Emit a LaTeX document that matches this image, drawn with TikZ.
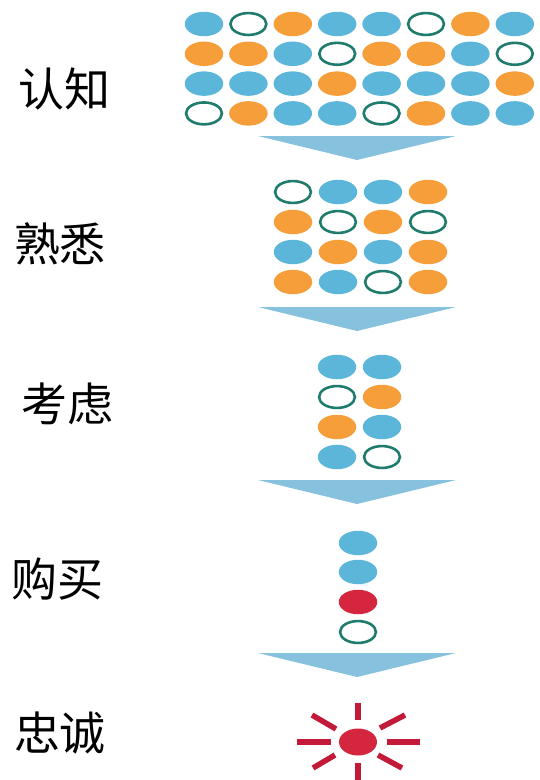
\documentclass[tikz,border=0pt]{standalone}
\usepackage{fontspec}
\newfontfamily\cjk{Noto Sans CJK SC}
\usetikzlibrary{shapes.geometric}
\definecolor{dotblue}{HTML}{5CB6DA}
\definecolor{dotorange}{HTML}{F59E3A}
\definecolor{dotteal}{HTML}{1F7B6B}
\definecolor{dotred}{HTML}{D4263F}
\definecolor{rayred}{HTML}{C41A3A}
\definecolor{chevblue}{HTML}{86C1DE}
\tikzset{
  dot/.style={ellipse,inner sep=0pt,minimum width=38.5pt,minimum height=24.5pt},
  dotb/.style={dot,fill=dotblue},
  doto/.style={dot,fill=dotorange},
  dotr/.style={dot,fill=dotred},
  dotw/.style={dot,draw=dotteal,line width=2.6pt,fill=white,
    minimum width=35.9pt,minimum height=21.9pt},
  chev/.style={fill=chevblue},
  ray/.style={draw=rayred,line width=5.5pt},
  stage/.style={inner sep=0pt,font=\cjk\fontsize{46}{46}\selectfont}
}
\begin{document}
\begin{tikzpicture}[x=1pt,y=-1pt]
    \useasboundingbox (0,0) rectangle (539,780);
    \def\x{44.4}
    \def\y{29.8}
    % stage labels
    \node[stage] (L1) at (65,89) {认知};
    \node[stage] (L2) at (60,244) {熟悉};
    \node[stage] (L3) at (67,404) {考虑};
    \node[stage] (L4) at (58,579) {购买};
    \node[stage] (L5) at (60,733) {忠诚};
    % first funnel step, 8 x 4
    \foreach \c [count=\i from 0] in {b,w,o,b,b,w,o,b}
      \node[dot\c] (A1_\i) at (204+\i*\x, 24+0*\y) {};
    \foreach \c [count=\i from 0] in {o,o,b,w,o,o,b,w}
      \node[dot\c] (A2_\i) at (204+\i*\x, 24+1*\y) {};
    \foreach \c [count=\i from 0] in {b,b,b,o,b,b,b,o}
      \node[dot\c] (A3_\i) at (204+\i*\x, 24+2*\y) {};
    \foreach \c [count=\i from 0] in {w,o,b,b,w,o,b,b}
      \node[dot\c] (A4_\i) at (204+\i*\x, 24+3*\y) {};
    % second step, 4 x 4
    \foreach \c [count=\i from 0] in {w,b,b,o}
      \node[dot\c] (B1_\i) at (293+\i*45, 192) {};
    \foreach \c [count=\i from 0] in {o,w,o,w}
      \node[dot\c] (B2_\i) at (293+\i*45, 222) {};
    \foreach \c [count=\i from 0] in {b,o,b,o}
      \node[dot\c] (B3_\i) at (293+\i*45, 252) {};
    \foreach \c [count=\i from 0] in {o,b,w,o}
      \node[dot\c] (B4_\i) at (293+\i*45, 282) {};
    % third step, 2 x 4
    \node[dotb] (C1_0) at (337,367) {};
    \node[dotb] (C1_1) at (382,367) {};
    \node[dotw] (C2_0) at (337,397) {};
    \node[doto] (C2_1) at (382,397) {};
    \node[doto] (C3_0) at (337,427) {};
    \node[dotb] (C3_1) at (382,427) {};
    \node[dotb] (C4_0) at (337,457) {};
    \node[dotw] (C4_1) at (382,457) {};
    % fourth step, one column
    \node[dotb] (D1_0) at (358,543) {};
    \node[dotb] (D2_0) at (358,572) {};
    \node[dotr] (D3_0) at (358,602) {};
    \node[dotw] (D4_0) at (358,632) {};
    % chevrons between the steps
    \foreach \t in {136,307,480,653}
      \fill[chev] (258,\t) -- (456,\t) -- (357,\t+24) -- cycle;
    % loyal customer
    \node[dotr,minimum width=38pt,minimum height=27pt] (E) at (358,742) {};
    \begin{scope}[shift={(358,742)}]
      \foreach \ax/\ay/\bx/\by in {0/-39/0/-22, 0/21/0/42, -61/0/-27/0, 29/0/62/0,
                         -46/-27/-22/-13, 22/-14/47/-27, -45/26/-23/13, 20/13/44/26}
        \draw[ray] (\ax,\ay) -- (\bx,\by);
    \end{scope}
\end{tikzpicture}
\end{document}
